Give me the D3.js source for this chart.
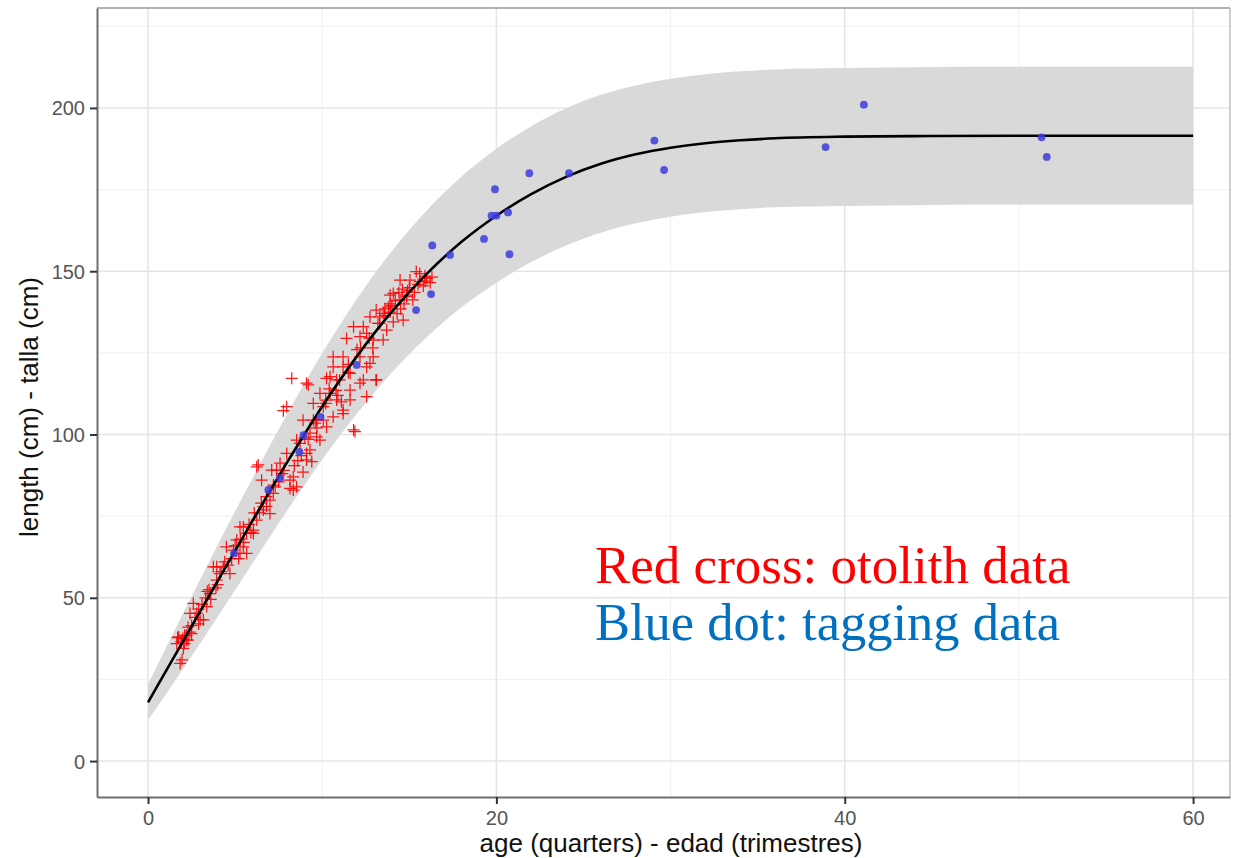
<!DOCTYPE html>
<html><head><meta charset="utf-8">
<script src="https://cdn.jsdelivr.net/npm/d3@7"></script>
<style>body{margin:0;background:#fff}svg{display:block}</style>
</head><body>
<svg id="c" width="1253" height="858"></svg>
<script>
// ---- data ----
const xTicks = [0, 20, 40, 60];
const yTicks = [0, 50, 100, 150, 200];
const fitAge = [0,2,4,6,8,10,12,14,16,18,20,22,24,26,28,30,32,34,36,40,45,50,55,60];
const fitLen = [18,36.6,55.2,73.6,91.6,108.6,124,137.6,149.2,159,167,173.6,178.9,182.9,185.8,187.8,189.2,190.1,190.7,191.2,191.4,191.5,191.5,191.5];
const bandUpper = [23.5,45.1,66.2,86.6,106.4,124.9,141.6,156.2,168.6,179,187.5,194.4,199.9,204,206.9,208.9,210.3,211.2,211.8,212.2,212.5,212.6,212.6,212.6];
const bandLower = [12.5,28.1,44.2,60.6,76.8,92.3,106.4,119,129.8,139,146.5,152.8,157.9,161.8,164.7,166.7,168.1,169,169.6,170,170.3,170.4,170.4,170.4];
// otolith data (red crosses)
const otoAge = [1.84,1.65,2.22,2.03,2.41,2.99,2.6,2.8,3.37,3.18,3.56,3.94,3.75,4.32,4.13,4.7,4.5,4.9,5.28,5.47,5.09,5.28,5.66,6.05,6.24,6.62,7.0,6.24,7.1,7.58,7.96,8.34,8.53,8.15,9.1,9.3,8.73,9.87,10.25,9.68,7.96,7.77,8.25,9.2,6.33,6.52,7.38,7.19,6.62,7.0,5.47,6.05,5.66,3.94,1.95,2.1,
  11.88,13.3,13.6,13.9,14.3,14.85,14.08,12.36,11.4,10.63,10.25,10.83,11.2,12.36,13.1,12.74,11.6,10.45,10.06,11.2,9.49,8.9,9.68,8.53,9.1,9.4,8.9,8.15,8.34,
  15.4,15.04,14.47,16.0,13.9,14.47,14.85,15.2,13.1,13.5,12.74,13.3,14.08,11.8,12.55,12.17,12.93,11.2,10.63,12.17,12.93,12.55,13.1,12.17,11.6,11.0,10.45,9.87,10.83,11.6,12.55,11.2,11.8,9.1,9.49,10.06,9.3,10.63,
  15.6,14.65,13.5,15.8,16.2,14.0,14.6,15.5,13.7,12.0,11.5,10.9,10.2,9.6,9.0,8.6,7.7,7.3,6.8,6.4,5.9,5.2,4.6,4.0,3.4,2.9,2.5,2.3,1.75,12.9,13.8,14.9,15.9,11.1,10.4,
  1.9,2.0,2.1,2.2,2.3,1.7,2.4,2.5,2.7,2.9,3.1,3.3,3.5,3.6,3.9,4.2,4.4,4.8,5.0,5.3,5.5,5.8,6.1,6.5,6.8,7.2,7.5,7.8,13.2,13.6,14.2,14.4,14.7,15.0,15.3,15.6,15.9,16.3,13.9,14.5,12.7,12.2,11.5,10.8,10.2,9.7,9.2,8.8,8.4];
const otoLen = [29.9,36,37.1,34.5,45.2,43.2,48.3,45.2,47.3,43.2,51.3,55.4,59.5,59.5,57.4,57.4,65.6,64.6,63.6,65.6,67.7,71.7,69.7,70.7,73.8,76.9,79.9,90.1,89.1,91.2,94.2,87,84,83.5,92.2,95.3,97.3,98.3,102.3,104.4,108.5,107.3,117.2,115.2,90.7,86,89.1,82,77.9,75.8,71.7,69.7,63.6,59.5,31,38.5,
  100.9,136,138.5,140,137,142.7,143.2,133,129.4,123.8,117.2,116.7,120.7,116.7,116.7,121.8,113.6,112.6,108.5,106.4,104.4,104.4,99.3,98.3,94.2,91.7,88.5,86,83,
  149.9,147.3,147.3,147.8,142.7,141.2,142.2,141.2,138.1,137.1,136,134,134.5,133,131,130,128.9,123.8,120.7,123.8,123.8,120.7,116.7,115.7,118.7,116.7,117.7,112.6,110.6,110.6,111.6,107.5,101.4,115.7,109.5,104.4,100.4,105.4,
  149.3,135,129,145.5,146.5,139.5,144.5,146,132,126,119,112,109.5,103.5,99,92,88,84,78,76,70,62,60,54,52,42,39,41,38,126.5,139,144,148.5,110,114,
  36.5,37.5,36,38.5,37,37.8,39.5,41.5,44,46.5,48,50,52.5,49.5,53,58,61,62,66,68,67,72.5,76,79,81,84.5,85.5,89,134,136.5,141,143.5,140,145,143.5,146.8,147,148.2,137.5,138.5,129.5,126.5,121.5,113.5,110.5,102,98.5,93.5,90.5];
// tagging data (blue dots)
const tagAge = [4.94,6.91,7.58,8.69,8.92,9.9,11.98,15.39,16.25,16.32,17.34,19.29,19.72,20.0,20.67,19.92,20.75,21.89,24.17,29.07,29.63,38.9,41.1,51.3,51.6];
const tagLen = [63.6,83,86.6,94.7,99.8,105.4,121.3,138.1,143,157.9,155,159.9,167,167,168,175.1,155.2,180,180,190,181,188,201,191,185];

// ---- layout ----
const svg = d3.select('#c');
const P = {l:97, t:8, r:1230, b:797};
const x = d3.scaleLinear().domain([-2.93, 62.12]).range([P.l, P.r]);
const y = d3.scaleLinear().domain([-11.0, 230.6]).range([P.b, P.t]);

svg.append('rect').attr('x',P.l).attr('y',P.t).attr('width',P.r-P.l).attr('height',P.b-P.t).attr('fill','#fff');

const g = svg.append('g');
const xMinor = [10,30,50], yMinor = [25,75,125,175,225];
g.selectAll('.xm').data(xMinor).join('line').attr('x1',d=>x(d)).attr('x2',d=>x(d)).attr('y1',P.t).attr('y2',P.b).attr('stroke','#f0f0f0').attr('stroke-width',1);
g.selectAll('.ym').data(yMinor).join('line').attr('y1',d=>y(d)).attr('y2',d=>y(d)).attr('x1',P.l).attr('x2',P.r).attr('stroke','#f0f0f0').attr('stroke-width',1);
g.selectAll('.xM').data(xTicks).join('line').attr('x1',d=>x(d)).attr('x2',d=>x(d)).attr('y1',P.t).attr('y2',P.b).attr('stroke','#e4e4e4').attr('stroke-width',1.5);
g.selectAll('.yM').data(yTicks).join('line').attr('y1',d=>y(d)).attr('y2',d=>y(d)).attr('x1',P.l).attr('x2',P.r).attr('stroke','#e4e4e4').attr('stroke-width',1.5);

// ribbon
const band = fitAge.map((a,i)=>({a, lo:bandLower[i], hi:bandUpper[i]}));
svg.append('path').datum(band)
  .attr('d', d3.area().x(d=>x(d.a)).y0(d=>y(d.lo)).y1(d=>y(d.hi)).curve(d3.curveMonotoneX))
  .attr('fill','#d9d9d9');

// crosses
const cross = otoAge.map((a,i)=>({a, l:otoLen[i]}));
const cs = 6;
svg.append('g').selectAll('path').data(cross).join('path')
  .attr('d', d=>{const px=x(d.a), py=y(d.l); return `M${px-cs},${py}H${px+cs}M${px},${py-cs}V${py+cs}`;})
  .attr('stroke','#ff0000').attr('stroke-width',1.25).attr('fill','none').attr('opacity',0.9);

// fitted curve
const fit = fitAge.map((a,i)=>({a, l:fitLen[i]}));
svg.append('path').datum(fit)
  .attr('d', d3.line().x(d=>x(d.a)).y(d=>y(d.l)).curve(d3.curveMonotoneX))
  .attr('fill','none').attr('stroke','#000').attr('stroke-width',2.6);

// dots
const tag = tagAge.map((a,i)=>({a, l:tagLen[i]}));
svg.append('g').selectAll('circle').data(tag).join('circle')
  .attr('cx',d=>x(d.a)).attr('cy',d=>y(d.l)).attr('r',3.9)
  .attr('fill','#3b3bdc').attr('opacity',0.85);

// border
svg.append('line').attr('x1',P.l).attr('x2',P.r).attr('y1',P.t).attr('y2',P.t).attr('stroke','#9a9a9a').attr('stroke-width',1.5);
svg.append('line').attr('x1',P.r).attr('x2',P.r).attr('y1',P.t).attr('y2',P.b).attr('stroke','#b0b0b0').attr('stroke-width',1.2);

// axes
const ax = svg.append('g').attr('transform',`translate(0,${P.b})`)
  .call(d3.axisBottom(x).tickValues(xTicks).tickSize(7).tickSizeOuter(0).tickPadding(6).tickFormat(d3.format('d')));
const ay = svg.append('g').attr('transform',`translate(${P.l},0)`)
  .call(d3.axisLeft(y).tickValues(yTicks).tickSize(7).tickSizeOuter(0).tickPadding(5).tickFormat(d3.format('d')));
[ax, ay].forEach(a=>{
  a.select('.domain').attr('stroke','#6e6e6e').attr('stroke-width',2);
  a.selectAll('.tick line').attr('stroke','#333').attr('stroke-width',2);
  a.selectAll('.tick text').attr('fill','#555').style('font-family','Liberation Sans, Arial, sans-serif').style('font-size','20px');
});
ax.selectAll('.tick text').attr('dy','0.75em');
ay.selectAll('.tick text').attr('dy','0.35em');

// axis titles
svg.append('text').attr('x',671).attr('y',852).attr('text-anchor','middle')
  .style('font-family','Liberation Sans, Arial, sans-serif').style('font-size','26px').attr('fill','#111')
  .text('age (quarters) - edad (trimestres)');
svg.append('text').attr('transform','translate(38,407) rotate(-90)').attr('text-anchor','middle')
  .style('font-family','Liberation Sans, Arial, sans-serif').style('font-size','26px').attr('fill','#111')
  .text('length (cm) - talla (cm)');

// annotation
svg.append('text').attr('x',595).attr('y',583)
  .style('font-family','Liberation Serif, Times New Roman, serif').style('font-size','53px').attr('fill','#ff0000')
  .text('Red cross: otolith data');
svg.append('text').attr('x',595).attr('y',640)
  .style('font-family','Liberation Serif, Times New Roman, serif').style('font-size','52.5px').attr('fill','#0070c0')
  .text('Blue dot: tagging data');
</script>
</body></html>
